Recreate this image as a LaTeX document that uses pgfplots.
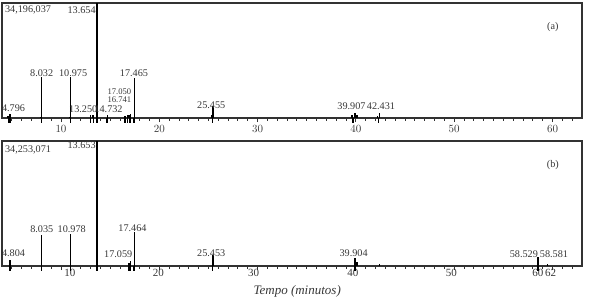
\documentclass[border=0pt]{standalone}
\usepackage{fontspec}
\setmainfont{Liberation Serif}
\usepackage{pgfplots}
\pgfplotsset{compat=1.18}
\definecolor{txt}{RGB}{55,55,55}
\definecolor{frame}{RGB}{50,50,50}

\pgfplotstableread{
x y
4.62 0.5
4.796 1.2
7.90 0.4
8.032 12.1
10.85 0.4
10.975 12.3
13.00 0.8
13.250 1.0
13.654 34.196
14.732 0.9
16.50 0.7
16.741 1.0
16.90 0.8
17.050 1.1
17.465 11.9
25.30 1.0
25.455 3.5
39.60 0.8
39.907 1.5
40.10 0.9
42.20 0.6
42.431 1.5
}\peaksA

\pgfplotstableread{
x y
4.70 -1.6
4.85 -1.6
8.00 -1.6
10.95 -1.6
13.00 -1.6
13.30 -1.6
13.65 -1.6
14.70 -1.6
16.50 -1.6
16.75 -1.6
17.00 -1.6
17.45 -1.6
25.40 -1.6
39.70 -1.6
42.30 -1.6
}\marksA

\pgfplotstableread{
x y
4.804 1.7
8.035 8.6
10.978 8.9
13.653 34.253
16.90 0.8
17.059 1.4
17.464 9.2
25.453 3.1
39.904 2.1
40.10 1.0
42.40 0.5
58.529 2.4
58.581 1.6
59.50 0.6
}\peaksB

\pgfplotstableread{
x y
4.80 -1.5
8.03 -1.5
10.97 -1.5
13.65 -1.5
16.90 -1.5
17.05 -1.5
17.45 -1.5
25.40 -1.5
39.90 -1.5
58.50 -1.5
}\marksB

\tikzset{lab/.style={font=\fontsize{10.2}{11}\selectfont, text=txt, inner sep=0pt},
  slab/.style={font=\fontsize{8.6}{9}\selectfont, text=txt, inner sep=0pt}}

\begin{document}
\begin{tikzpicture}
\useasboundingbox (0,0) rectangle (589pt,301pt);
\pgfplotsset{chrom/.style={
  scale only axis, width=580pt, xmin=4, xmax=63, ymin=0,
  anchor=south west,
  axis line style={frame, line width=1.1pt},
  ytick=\empty, xtick pos=left,
  tick align=outside,
  minor xtick={5,...,62},
  minor tick length=2.5pt, major tick length=4pt,
  tick style={frame, line width=0.9pt},
  tick label style={font=\fontsize{11}{12}\selectfont, text=txt},
  clip=false,
}}

% ---------- (a)
\begin{axis}[chrom, at={(2pt,183pt)}, height=115pt, ymax=34.196,
  xtick={10,20,30,40,50,60}]
\addplot[ycomb, mark=none, black, line width=1.4pt] table {\peaksA};
\addplot[ycomb, mark=none, black, line width=1.5pt] table {\marksA};
\node[lab, anchor=west] at (axis cs:4.3,32.0) {34,196,037};
\node[lab, anchor=east] at (axis cs:13.55,32.0) {13.654};
\node[lab] at (axis cs:8.032,13.4) {8.032};
\node[lab] at (axis cs:11.24,13.4) {10.975};
\node[lab] at (axis cs:17.42,13.4) {17.465};
\node[lab] at (axis cs:5.17,2.97) {4.796};
\node[lab] at (axis cs:12.26,2.68) {13.250};
\node[lab] at (axis cs:14.84,2.68) {14.732};
\node[slab, anchor=east] at (axis cs:17.17,7.8) {17.050};
\node[slab, anchor=east] at (axis cs:17.17,5.4) {16.741};
\node[lab] at (axis cs:25.28,3.87) {25.455};
\node[lab] at (axis cs:39.55,3.57) {39.907};
\node[lab] at (axis cs:42.55,3.57) {42.431};
\node[lab] at (axis cs:60.03,27.06) {(a)};
\end{axis}

% ---------- (b)
\begin{axis}[chrom, at={(2pt,35pt)}, height=125pt, ymax=34.253,
  xtick={10.9,19.9,29.6,39.7,49.7,58.5,59.8},
  xticklabels={10,20,30,40,50,60,62},
  major tick length=0pt,
  extra x ticks={10,20,30,40,50,60},
  extra x tick labels={},
  extra x tick style={major tick length=4pt},
  xlabel={Tempo (minutos)},
  xlabel style={font=\itshape\fontsize{13}{14}\selectfont, text=txt,
    at={(ticklabel cs:0.509)}, anchor=north, inner sep=1pt}]
\addplot[ycomb, mark=none, black, line width=1.4pt] table {\peaksB};
\addplot[ycomb, mark=none, black, line width=1.5pt] table {\marksB};
\node[lab, anchor=west] at (axis cs:4.3,31.8) {34,253,071};
\node[lab, anchor=east] at (axis cs:13.55,33.0) {13.653};
\node[lab] at (axis cs:5.17,3.56) {4.804};
\node[lab] at (axis cs:8.05,10.14) {8.035};
\node[lab] at (axis cs:11.09,10.14) {10.978};
\node[lab] at (axis cs:17.27,10.41) {17.464};
\node[lab, anchor=east] at (axis cs:17.27,3.29) {17.059};
\node[lab] at (axis cs:25.28,3.56) {25.453};
\node[lab] at (axis cs:39.77,3.56) {39.904};
\node[lab, anchor=east] at (axis cs:58.529,3.29) {58.529};
\node[lab, anchor=west] at (axis cs:58.529,3.29) {\,58.581};
\node[lab] at (axis cs:60.03,27.7) {(b)};
\end{axis}
\end{tikzpicture}
\end{document}
